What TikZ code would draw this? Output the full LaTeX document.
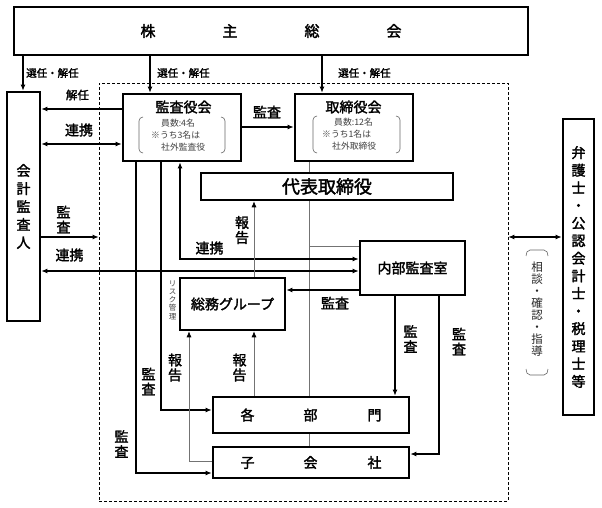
\documentclass[tikz,border=0pt]{standalone}
\usepackage{fontspec}
\setmainfont{Noto Sans CJK JP}[AutoFakeBold=2]
\usetikzlibrary{arrows.meta}

\tikzset{
  box/.style={draw, line width=2.6pt, fill=white, inner sep=0pt, align=center},
  dashbox/.style={draw, dashed, dash pattern=on 3pt off 2pt, line width=0.6pt, inner sep=0pt},
  arr/.style={-{Latex[length=6pt,width=5pt]}, line width=1.3pt},
  darr/.style={{Latex[length=6pt,width=5pt]}-{Latex[length=6pt,width=5pt]}, line width=1.3pt},
  tree/.style={black!55, line width=0.7pt},
  rep/.style={tree, -{Latex[length=6pt,width=5pt,color=black]}},
  lbl/.style={inner sep=0pt, font=\fontsize{14}{15}\selectfont\bfseries},
  vlbl/.style={lbl, align=center},
  sel/.style={inner sep=0pt, anchor=west, font=\fontsize{10.5}{12}\selectfont\bfseries},
  detail/.style={inner sep=0pt, anchor=west, align=left, text=black!75, font=\fontsize{8.8}{12}\selectfont},
  brk/.style={black!60, line width=0.6pt}
}

\begin{document}
\begin{tikzpicture}[x=1pt, y=-1pt]
\useasboundingbox (0,0) rectangle (602,508);

%% company region
\node[dashbox, minimum width=409pt, minimum height=418pt] (company) at (303.5,292) {};

%% lanes and rows for the connectors
\coordinate (sel_a) at (23,0);
\coordinate (sel_b) at (150,0);
\coordinate (sel_c) at (322,0);
\coordinate (row_fire) at (0,109);
\coordinate (row_coop) at (0,144);
\coordinate (row_aud) at (0,127);
\coordinate (row_ext) at (0,237);
\coordinate (row_int) at (0,271);
\coordinate (row_gen) at (0,290);
\coordinate (trunk) at (309,0);
\coordinate (trunk_br) at (309,246);
\coordinate (rep_x) at (254,0);
\coordinate (aud_x) at (395,0);
\coordinate (lane_a) at (136,473);
\coordinate (lane_b) at (161,410);
\coordinate (lane_c) at (180,259);
\coordinate (lane_d) at (439,454);
\coordinate (lane_e) at (189,461);

%% tree lines (behind the boxes)
\draw[tree] (309,162) -- (309,447);
\draw[tree] (trunk_br) -- (360,246);

%% SHAREHOLDERS MEETING
\node[box, minimum width=514pt, minimum height=48pt, font=\fontsize{15}{16}\selectfont\bfseries] (shareholders) at (271,31) {株\hspace{67pt}主\hspace{67pt}総\hspace{67pt}会};

%% AUDITORS
\node[box, minimum width=33pt, minimum height=229pt, font=\fontsize{14}{18}\selectfont\bfseries] (auditor_ext) at (23.5,206.5) {会\\計\\監\\査\\人};
\node[box, minimum width=118pt, minimum height=67pt] (board_audit) at (182,127.5) {};
\node[lbl] (board_audit_t) at (183.5,107) {監査役会};
\node[detail] (board_audit_d) at (151,135) {\hspace*{10pt}員数:4名\\※うち3名は\\\hspace*{10pt}社外監査役};

%% DIRECTORS
\node[box, minimum width=118pt, minimum height=67pt] (board_dir) at (354,127.5) {};
\node[lbl] (board_dir_t) at (353.5,107) {取締役会};
\node[detail] (board_dir_d) at (322,134) {\hspace*{12pt}員数:12名\\※うち1名は\\\hspace*{10pt}社外取締役};
\node[box, minimum width=252pt, minimum height=27pt, font=\fontsize{18}{20}\selectfont\bfseries] (ceo) at (327,186.5) {代表取締役};

%% INTERNAL UNITS
\node[box, minimum width=105pt, minimum height=54pt, font=\fontsize{14}{16}\selectfont\bfseries] (audit_int) at (412.5,268) {内部監査室};
\node[box, minimum width=105pt, minimum height=52pt, font=\fontsize{14}{16}\selectfont\bfseries] (admin_grp) at (232.5,304) {総務グループ};
\node[box, minimum width=196pt, minimum height=36pt, font=\fontsize{14}{16}\selectfont\bfseries] (depts) at (311,415) {各\hspace{49pt}部\hspace{50pt}門};
\node[box, minimum width=196pt, minimum height=31pt, font=\fontsize{14}{16}\selectfont\bfseries] (subs) at (311,462.5) {子\hspace{49pt}会\hspace{50pt}社};

%% ADVISORS
\node[box, minimum width=31pt, minimum height=296pt, font=\fontsize{14}{17.6}\selectfont\bfseries] (advisors) at (578.5,267) {弁\\護\\士\\・\\公\\認\\会\\計\\士\\・\\税\\理\\士\\等};

%% brackets
\draw[brk] (143,117) to[out=180,in=90] (139,121) -- (139,149) to[out=-90,in=180] (143,153);
\draw[brk] (221,117) to[out=0,in=90] (225,121) -- (225,149) to[out=-90,in=0] (221,153);
\draw[brk] (317,116) to[out=180,in=90] (313,120) -- (313,149) to[out=-90,in=180] (317,153);
\draw[brk] (396,116) to[out=0,in=90] (400,120) -- (400,149) to[out=-90,in=0] (396,153);
\draw[brk] (526,256) to[out=90,in=180] (530,250) -- (544,250) to[out=0,in=90] (548,256);
\draw[brk] (526,369) to[out=-90,in=180] (530,375) -- (544,375) to[out=0,in=-90] (548,369);

%% election
\draw[arr] (shareholders.south -| sel_a) -- (auditor_ext.north -| sel_a);
\draw[arr] (shareholders.south -| sel_b) -- (board_audit.north -| sel_b);
\draw[arr] (shareholders.south -| sel_c) -- (board_dir.north -| sel_c);
\node[sel] (sel_a_t) at (26,73) {選任・解任};
\node[sel] (sel_b_t) at (157,73) {選任・解任};
\node[sel] (sel_c_t) at (338,73) {選任・解任};

%% audit board links
\draw[arr] (board_audit.west |- row_fire) -- (auditor_ext.east |- row_fire);
\node[lbl, font=\fontsize{11.5}{13}\selectfont\bfseries] (fire_t) at (77.5,95) {解任};
\draw[darr] (auditor_ext.east |- row_coop) -- (board_audit.west |- row_coop);
\node[lbl] (coop_t) at (79,130) {連携};
\draw[arr] (board_audit.east |- row_aud) -- (board_dir.west |- row_aud);
\node[lbl] (aud_t) at (267,112) {監査};
\draw[darr] (board_audit.south -| lane_c) |- (audit_int.west |- lane_c);
\node[lbl] (coop_int_t) at (209.5,248) {連携};
\draw[arr] (board_audit.south -| lane_b) |- (depts.west |- lane_b);
\node[vlbl] (aud_dept_t) at (148.5,381.5) {監\\査};
\draw[arr] (board_audit.south -| lane_a) |- (subs.west |- lane_a);
\node[vlbl] (aud_sub_t) at (121.5,444) {監\\査};

%% external auditor
\draw[arr] (auditor_ext.east |- row_ext) -- (company.west |- row_ext);
\node[vlbl] (aud_ext_t) at (63.5,219.5) {監\\査};
\draw[darr] (auditor_ext.east |- row_int) -- (audit_int.west |- row_int);
\node[lbl] (coop_ext_t) at (69.5,255) {連携};

%% internal audit
\draw[arr] (audit_int.west |- row_gen) -- (admin_grp.east |- row_gen);
\node[lbl] (aud_gen_t) at (335,303) {監査};
\draw[arr] (audit_int.south -| aud_x) -- (depts.north -| aud_x);
\node[vlbl] (aud_int_d_t) at (410.5,339) {監\\査};
\draw[arr] (audit_int.south -| lane_d) |- (subs.east |- lane_d);
\node[vlbl] (aud_int_s_t) at (459,341.5) {監\\査};

%% reports
\draw[rep] (admin_grp.north -| rep_x) -- (ceo.south -| rep_x);
\node[vlbl] (rep_ceo_t) at (242,230) {報\\告};
\draw[rep] (depts.north -| rep_x) -- (admin_grp.south -| rep_x);
\node[vlbl] (rep_dept_t) at (239.5,367.5) {報\\告};
\draw[rep] (subs.west |- lane_e) -| (admin_grp.south -| lane_e);
\node[vlbl] (rep_sub_t) at (175,367.5) {報\\告};
\node[inner sep=0pt, align=center, text=black!75, font=\fontsize{7.5}{8.2}\selectfont] (risk_t) at (172.5,300) {リ\\ス\\ク\\管\\理};

%% advisors
\draw[darr] (company.east |- row_ext) -- (advisors.west |- row_ext);
\node[inner sep=0pt, align=center, text=black!85, font=\fontsize{11.5}{12}\selectfont] (consult_t) at (537,309) {相\\談\\・\\確\\認\\・\\指\\導};

\end{tikzpicture}
\end{document}
